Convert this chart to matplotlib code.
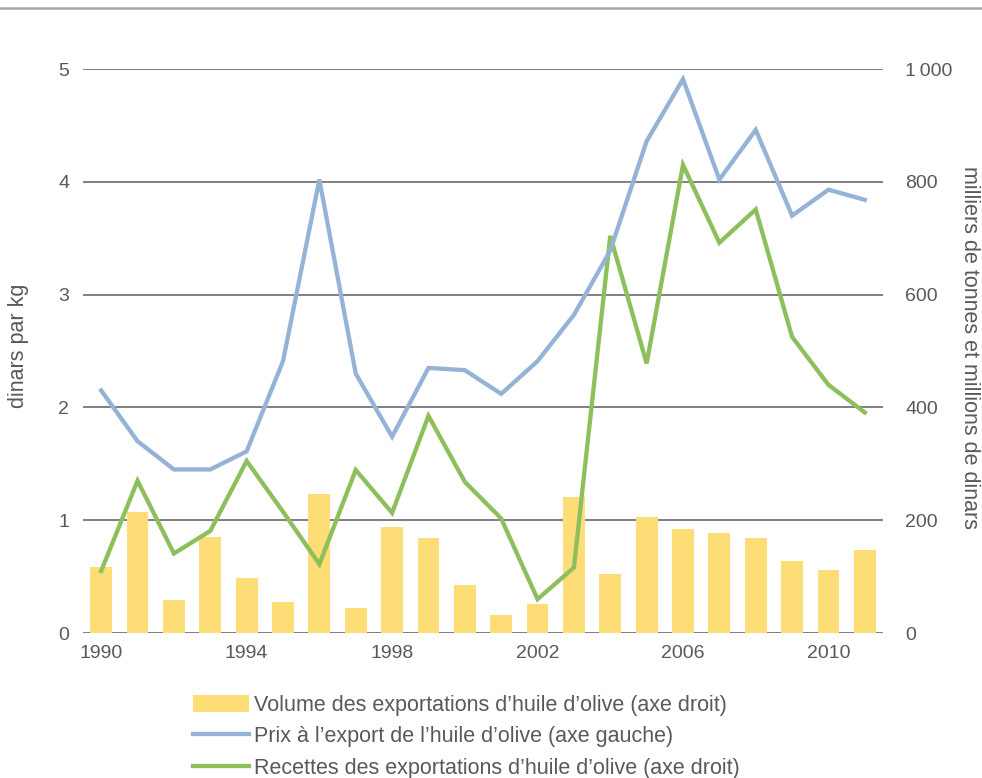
import matplotlib
matplotlib.use("Agg")
import matplotlib.pyplot as plt
from matplotlib.lines import Line2D
from matplotlib.patches import Patch
from matplotlib.ticker import FuncFormatter, FixedLocator

plt.rcParams['font.family'] = ['Liberation Sans', 'DejaVu Sans']

years = list(range(1990, 2012))
# Volume des exportations (milliers de tonnes, axe droit)
volume = [117, 214, 58, 171, 98, 55, 247, 45, 188, 168, 85,
          32, 52, 241, 105, 205, 184, 178, 168, 128, 112, 148]
# Prix à l'export (dinars par kg, axe gauche)
prix = [2.15, 1.70, 1.45, 1.45, 1.61, 2.41, 4.02, 2.30, 1.74, 2.35, 2.33,
        2.12, 2.41, 2.82, 3.39, 4.36, 4.91, 4.02, 4.46, 3.70, 3.93, 3.84]
# Recettes des exportations (millions de dinars, axe droit)
recettes = [110, 270, 141, 181, 305, 215, 122, 289, 213, 385, 268,
            203, 60, 116, 704, 478, 830, 692, 751, 525, 440, 391]

tick_years = [1990, 1994, 1998, 2002, 2006, 2010]

c_bar = '#FCDD76'
c_blue = '#95B3D7'
c_green = '#8DBF5C'
c_text = '#595959'
c_grid = '#7F7F7F'
fs_tick = 14
fs_lab = 15.5

fig = plt.figure(figsize=(9.82, 7.78), dpi=100)
ax = fig.add_axes([83/982, (778-633)/778, 800/982, 564/778])
ax2 = ax.twinx()

x = list(range(len(years)))

ax.set_xlim(-0.5, len(years) - 0.5)
ax.set_ylim(0, 5)
ax2.set_ylim(0, 1000)

# grid lines behind bars
for v in range(0, 6):
    ax2.axhline(v * 200, color=c_grid, lw=1.4, zorder=0)

# Put the left axis on top so the price line sits above the bars
ax.set_zorder(ax2.get_zorder() + 1)
ax.patch.set_visible(False)

ax2.bar(x, volume, width=0.6, color=c_bar, zorder=2)
ax2.plot(x, recettes, color=c_green, lw=3.1, zorder=3, solid_joinstyle='miter')
ax.plot(x, prix, color=c_blue, lw=3.1, zorder=3, solid_joinstyle='miter')

for a in (ax, ax2):
    for s in a.spines.values():
        s.set_visible(False)

ax.xaxis.set_major_locator(FixedLocator([years.index(y) for y in tick_years]))
ax.set_xticklabels([str(y) for y in tick_years])
ax.set_yticks(range(0, 6))
ax.tick_params(axis='x', length=0, pad=9, labelsize=fs_tick, labelcolor=c_text)
ax.tick_params(axis='y', length=0, pad=10, labelsize=fs_tick, labelcolor=c_text)

ax2.set_yticks(range(0, 1001, 200))
ax2.yaxis.set_major_formatter(FuncFormatter(lambda v, p: f"{int(v):,}".replace(",", "\u2009")))
ax2.tick_params(axis='y', length=0, pad=16, labelsize=fs_tick, labelcolor=c_text)

ax.set_ylabel("dinars par kg", fontsize=fs_lab, color=c_text)
ax.yaxis.set_label_coords(-0.068, 0.51)
ax2.set_ylabel("milliers de tonnes et millions de dinars", fontsize=fs_lab,
               color=c_text, rotation=270, va='center')
ax2.yaxis.set_label_coords(1.108, 0.507)

# top rule
fig.add_artist(Line2D([0, 1], [1 - 8/778, 1 - 8/778], transform=fig.transFigure,
                      color='#A6A6A6', lw=1.8))

handles = [Patch(facecolor=c_bar, edgecolor='none'),
           Line2D([], [], color=c_blue, lw=3.1),
           Line2D([], [], color=c_green, lw=3.1)]
labels = ["Volume des exportations d\u2019huile d\u2019olive (axe droit)",
          "Prix \u00e0 l\u2019export de l\u2019huile d\u2019olive (axe gauche)",
          "Recettes des exportations d\u2019huile d\u2019olive (axe droit)"]
fig.legend(handles, labels, loc='upper left',
           bbox_to_anchor=(193/982, 1 - 695/778), frameon=False,
           fontsize=fs_lab, labelcolor=c_text, handlelength=2.6, handleheight=0.84,
           handletextpad=0.25, labelspacing=0.48, borderpad=0, borderaxespad=0)

fig.savefig("out.png", dpi=100)
